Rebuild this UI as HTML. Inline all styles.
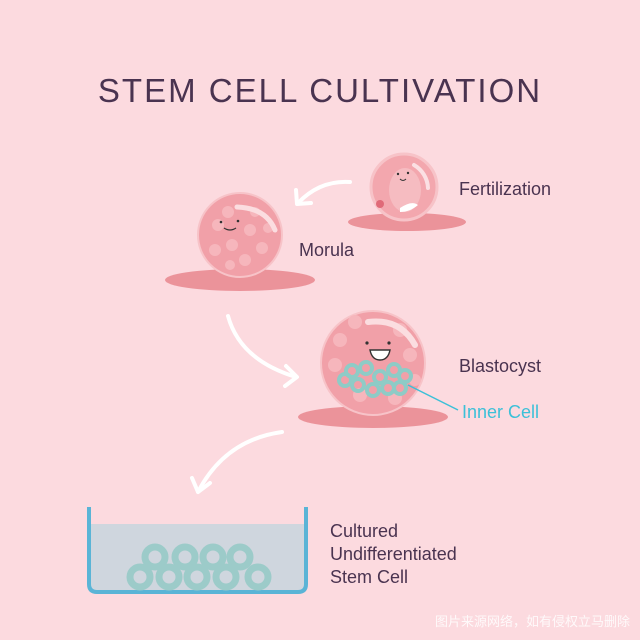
<!DOCTYPE html>
<html><head><meta charset="utf-8"><style>
html,body{margin:0;padding:0;background:#fcdadf;}
svg{display:block}
text{font-family:"Liberation Sans","Noto Sans CJK SC",sans-serif;}
</style></head><body>
<svg width="640" height="640" viewBox="0 0 640 640" xmlns="http://www.w3.org/2000/svg">
<rect width="640" height="640" fill="#fcdadf"/>
<text x="320" y="102" text-anchor="middle" font-size="33" fill="#4a3350" letter-spacing="2">STEM CELL CULTIVATION</text>

<!-- arrows -->
<g fill="none" stroke="#fff" stroke-width="4" stroke-linecap="round" stroke-linejoin="round">
<path d="M350 182 Q320 180 298 203"/><path d="M296 190 L297 204 L311 203"/>
<path d="M228 316 Q240 360 296 377"/><path d="M286 366 L297 377 L285 386"/>
<path d="M282 432 Q225 440 198 492"/><path d="M192 478 L198 492 L210 483"/>
</g>

<!-- fertilization -->
<ellipse cx="407" cy="222" rx="59" ry="9" fill="#eb939a"/>
<circle cx="404" cy="187" r="33" fill="#f3a7ae" stroke="#f7c3c8" stroke-width="3"/>
<ellipse cx="405" cy="190" rx="16" ry="22" fill="#f6bcc1"/>
<circle cx="380" cy="204" r="4" fill="#e06a78"/>
<path d="M400 208 Q412 200 418 205 Q410 212 400 212Z" fill="#fff"/>
<path d="M414 165 A28 28 0 0 1 428 188" stroke="#fbe0e3" stroke-width="4" fill="none" stroke-linecap="round"/>
<circle cx="398" cy="174" r="1.2" fill="#333"/><circle cx="408" cy="173" r="1.2" fill="#333"/>
<path d="M400 179 Q403 182 406 179" stroke="#333" fill="none"/>
<text x="459" y="195" font-size="18" fill="#4a3350">Fertilization</text>

<!-- morula -->
<ellipse cx="240" cy="280" rx="75" ry="11" fill="#eb939a"/>
<circle cx="240" cy="235" r="42" fill="#f1a0a8" stroke="#f7c3c8" stroke-width="2"/>
<g fill="#f6b6bc">
<circle cx="218" cy="225" r="6"/><circle cx="232" cy="245" r="6"/><circle cx="250" cy="230" r="6"/><circle cx="215" cy="250" r="6"/><circle cx="245" cy="260" r="6"/><circle cx="262" cy="248" r="6"/><circle cx="228" cy="212" r="6"/><circle cx="255" cy="212" r="5"/><circle cx="230" cy="265" r="5"/><circle cx="268" cy="228" r="5"/>
</g>
<path d="M237 207 Q266 208 275 230" stroke="#fbdde0" stroke-width="5" fill="none" stroke-linecap="round"/>
<circle cx="221" cy="222" r="1.3" fill="#333"/><circle cx="238" cy="221" r="1.3" fill="#333"/>
<path d="M224 228 Q230 232 236 228" stroke="#333" stroke-width="1.2" fill="none"/>
<text x="299" y="256" font-size="18" fill="#4a3350">Morula</text>

<!-- blastocyst -->
<ellipse cx="373" cy="417" rx="75" ry="11" fill="#eb939a"/>
<circle cx="373" cy="363" r="52" fill="#f1a0a8" stroke="#f7c3c8" stroke-width="2"/>
<g fill="#f6b6bc">
<circle cx="340" cy="340" r="7"/><circle cx="355" cy="322" r="7"/><circle cx="400" cy="330" r="7"/><circle cx="410" cy="355" r="7"/><circle cx="335" cy="365" r="7"/><circle cx="360" cy="395" r="7"/><circle cx="395" cy="398" r="7"/><circle cx="415" cy="380" r="6"/>
</g>
<path d="M368 322 Q400 318 415 345" stroke="#fbdde0" stroke-width="6" fill="none" stroke-linecap="round"/>
<circle cx="367" cy="343" r="1.6" fill="#333"/><circle cx="389" cy="343" r="1.6" fill="#333"/>
<path d="M370 350 L390 350 Q388 360 380 360 Q372 360 370 350Z" fill="#fff" stroke="#333" stroke-width="1.4"/>
<g fill="none" stroke="#8ecbc6" stroke-width="4">
<circle cx="352" cy="371" r="6"/><circle cx="366" cy="368" r="6"/><circle cx="380" cy="377" r="6"/><circle cx="394" cy="370" r="6"/><circle cx="405" cy="376" r="6"/>
<circle cx="358" cy="385" r="6"/><circle cx="373" cy="390" r="6"/><circle cx="388" cy="388" r="6"/><circle cx="400" cy="388" r="6"/><circle cx="345" cy="380" r="6"/>
</g>
<line x1="408" y1="385" x2="458" y2="410" stroke="#3cc0d8" stroke-width="1.5"/>
<text x="459" y="372" font-size="18" fill="#4a3350">Blastocyst</text>
<text x="462" y="418" font-size="18" fill="#3cc0d8">Inner Cell</text>

<!-- dish -->
<rect x="90" y="524" width="215" height="67" fill="#cfd6de"/>
<path d="M89 507 L89 584 Q89 592 97 592 L298 592 Q306 592 306 584 L306 507" fill="none" stroke="#5ab4d6" stroke-width="4"/>
<g fill="none" stroke="#9ccbc9" stroke-width="7">
<circle cx="155" cy="557" r="10"/><circle cx="185" cy="557" r="10"/><circle cx="213" cy="557" r="10"/><circle cx="240" cy="557" r="10"/>
<circle cx="140" cy="577" r="10"/><circle cx="169" cy="577" r="10"/><circle cx="197" cy="577" r="10"/><circle cx="226" cy="577" r="10"/><circle cx="258" cy="577" r="10"/>
</g>
<text x="330" y="537" font-size="18" fill="#4a3350">Cultured</text>
<text x="330" y="560" font-size="18" fill="#4a3350">Undifferentiated</text>
<text x="330" y="583" font-size="18" fill="#4a3350">Stem Cell</text>

<text x="630" y="626" text-anchor="end" font-size="13" fill="#ffffff" opacity="0.85">图片来源网络，如有侵权立马删除</text>
</svg>
</body></html>
